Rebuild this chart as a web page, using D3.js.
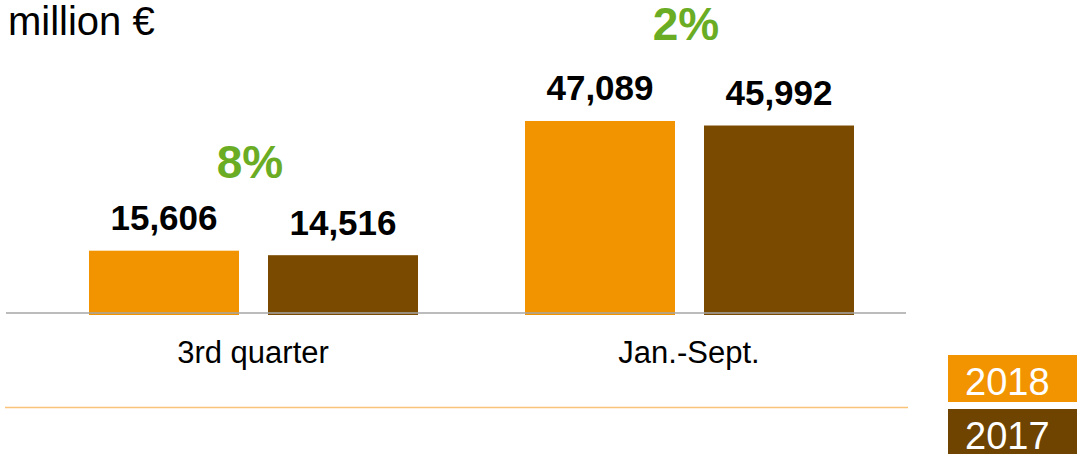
<!DOCTYPE html>
<html>
<head>
<meta charset="utf-8">
<script src="https://cdn.jsdelivr.net/npm/d3@7"></script>
<style>
  html, body { margin: 0; padding: 0; background: #fff; }
  svg { display: block; font-family: "Liberation Sans", Arial, sans-serif; }
</style>
</head>
<body>
<svg id="chart" width="1077" height="454"></svg>
<script>
// ---- data ----
const categories = ["3rd quarter", "Jan.-Sept."];
const seriesNames = ["2018", "2017"];
const values2018 = [15606, 47089];
const values2017 = [14516, 45992];
const changeLabels = ["8%", "2%"];
const unitLabel = "million €";

// ---- layout ----
const W = 1077, H = 454;
const baseY = 315;
const colors = { "2018": "#f29400", "2017": "#7a4a00" };
const legendColors = { "2018": "#f29400", "2017": "#6e4400" };
const pctOffsets = [73, 81];

const svg = d3.select("#chart");

const x0 = d3.scaleBand().domain(categories).range([35, 907]).paddingInner(0).paddingOuter(0);
const x1 = d3.scaleBand().domain(seriesNames).range([54, 383]).paddingInner(29 / 179).paddingOuter(0);
const y = d3.scaleLinear().domain([0, 50000]).range([baseY, baseY - 206]);

const rows = categories.map((c, i) => ({
  cat: c,
  vals: [{ s: "2018", v: values2018[i] }, { s: "2017", v: values2017[i] }],
  pct: changeLabels[i],
  off: pctOffsets[i]
}));

// unit label
svg.append("text").attr("x", 8).attr("y", 35)
  .attr("font-size", 40).attr("fill", "#000").text(unitLabel);

const g = svg.selectAll("g.grp").data(rows).join("g")
  .attr("class", "grp")
  .attr("transform", d => `translate(${x0(d.cat)},0)`);

g.selectAll("rect").data(d => d.vals).join("rect")
  .attr("x", d => x1(d.s))
  .attr("width", x1.bandwidth())
  .attr("y", d => y(d.v))
  .attr("height", d => baseY - y(d.v))
  .attr("fill", d => colors[d.s]);

g.selectAll("text.val").data(d => d.vals).join("text")
  .attr("class", "val")
  .attr("x", d => x1(d.s) + x1.bandwidth() / 2)
  .attr("y", d => y(d.v) - 20.5)
  .attr("text-anchor", "middle")
  .attr("font-size", 35).attr("font-weight", "bold").attr("fill", "#000")
  .text(d => d3.format(",")(d.v));

g.append("text")
  .attr("x", x0.bandwidth() / 2 - 3)
  .attr("y", d => y(d3.max(d.vals, v => v.v)) - d.off)
  .attr("text-anchor", "middle")
  .attr("font-size", 46).attr("font-weight", "bold").attr("fill", "#6aad24")
  .text(d => d.pct);

// baseline
svg.append("line").attr("x1", 6).attr("x2", 906)
  .attr("y1", 313).attr("y2", 313)
  .attr("stroke", "#a6a6a6").attr("stroke-width", 1.5);

// category axis
const axis = svg.append("g").attr("transform", `translate(0,${313})`)
  .call(d3.axisBottom(x0).tickSize(0).tickSizeOuter(0));
axis.select(".domain").remove();
axis.selectAll("text")
  .attr("dy", null).attr("y", 50)
  .attr("font-size", 31).attr("font-family", "Liberation Sans, Arial, sans-serif")
  .attr("fill", "#000");

// bottom orange rule
svg.append("line").attr("x1", 5).attr("x2", 908)
  .attr("y1", 407.5).attr("y2", 407.5)
  .attr("stroke", "#f9c47a").attr("stroke-width", 1.5);

// legend
const leg = svg.selectAll("g.leg").data(seriesNames).join("g")
  .attr("class", "leg")
  .attr("transform", (d, i) => `translate(948,${355 + i * 54})`);
leg.append("rect").attr("width", 129).attr("height", 47)
  .attr("fill", d => legendColors[d]);
leg.append("text").attr("x", 17).attr("y", 40)
  .attr("font-size", 38).attr("fill", "#fff").text(d => d);
</script>
</body>
</html>
